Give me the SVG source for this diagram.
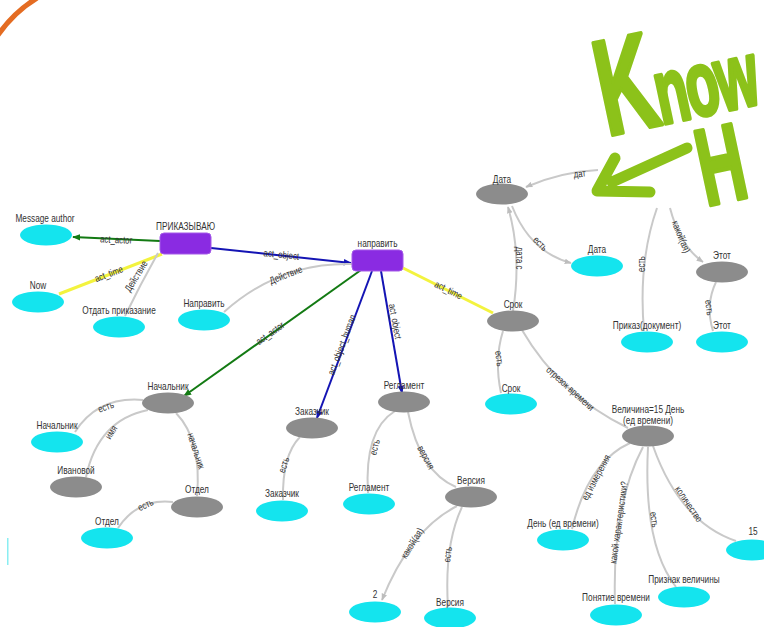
<svg xmlns="http://www.w3.org/2000/svg" width="764" height="627" viewBox="0 0 764 627">
<style>
.nl{font-family:"Liberation Sans",Arial,sans-serif;font-size:11px;fill:#333;text-anchor:middle}
.el{font-family:"Liberation Sans",Arial,sans-serif;font-size:10px;fill:#333;text-anchor:middle}
.cy{fill:#14e4ee}
.gr{fill:#8c8c8c}
.pu{fill:#8a2be2;stroke:#a45ae8;stroke-width:1}
.eg{fill:none;stroke:#c9c9c9;stroke-width:2}
.eb{fill:none;stroke:#1414b4;stroke-width:2}
.egn{fill:none;stroke:#137a13;stroke-width:2}
.ey{fill:none;stroke:#f3f33e;stroke-width:3}
.kh{font-family:"Liberation Sans",Arial,sans-serif;font-weight:bold;fill:#8cc21a;stroke:#8cc21a;stroke-width:2.5;stroke-linejoin:round}
</style>
<defs>
<marker id="ab" viewBox="0 0 10 10" refX="9" refY="5" markerWidth="8" markerHeight="8" markerUnits="userSpaceOnUse" orient="auto"><path d="M0,1 L10,5 L0,9 z" fill="#1414b4"/></marker>
<marker id="ag" viewBox="0 0 10 10" refX="9" refY="5" markerWidth="8" markerHeight="8" markerUnits="userSpaceOnUse" orient="auto"><path d="M0,1 L10,5 L0,9 z" fill="#137a13"/></marker>
<marker id="agr" viewBox="0 0 10 10" refX="9" refY="5" markerWidth="7" markerHeight="7" markerUnits="userSpaceOnUse" orient="auto"><path d="M0,1 L10,5 L0,9 z" fill="#bdbdbd"/></marker>
</defs>
<rect width="764" height="627" fill="#ffffff"/>
<path d="M-2,35 Q14,12 37,-2" fill="none" stroke="#e46c22" stroke-width="5"/>
<rect x="7" y="538" width="1.5" height="27" fill="#8aeef2"/>

<g id="connectors">
<path class="egn" d="M160,241 L73,237" marker-end="url(#ag)"/>
<path class="ey" d="M162,254 L59,294"/>
<path class="eg" d="M158,253 Q140,285 125,316"/>
<path class="eb" d="M211,248 L351,263" marker-end="url(#ab)"/>
<path class="eg" d="M352,264 Q280,262 224,312"/>
<path class="ey" d="M403,268 L493,313"/>
<path class="egn" d="M361,270 L184,396" marker-end="url(#ag)"/>
<path class="eb" d="M372,271 L317,418" marker-end="url(#ab)"/>
<path class="eb" d="M381,271 L402,393" marker-end="url(#ab)"/>
<path class="eg" d="M598,170 Q560,172 526,187" marker-end="url(#agr)"/>
<path class="eg" d="M512,206 Q530,252 571,263" marker-end="url(#agr)"/>
<path class="eg" d="M513,311 Q522,255 508,207" marker-end="url(#agr)"/>
<path class="eg" d="M657,208 Q638,262 644,331"/>
<path class="eg" d="M670,208 Q680,246 703,262" marker-end="url(#agr)"/>
<path class="eg" d="M716,282 Q705,305 713,331"/>
<path class="eg" d="M503,331 Q494,360 501,393"/>
<path class="eg" d="M522,330 Q560,395 628,428"/>
<path class="eg" d="M630,443 Q588,462 572,529"/>
<path class="eg" d="M643,447 Q612,505 615,604"/>
<path class="eg" d="M648,447 Q643,545 676,587"/>
<path class="eg" d="M653,446 Q680,522 736,541"/>
<path class="eg" d="M143,400 Q98,396 75,432"/>
<path class="eg" d="M148,410 Q98,420 86,477"/>
<path class="eg" d="M176,413 Q202,440 197,496"/>
<path class="eg" d="M173,502 Q138,498 118,528"/>
<path class="eg" d="M300,437 Q282,455 283,500"/>
<path class="eg" d="M395,411 Q364,430 368,493"/>
<path class="eg" d="M408,412 Q420,472 456,487"/>
<path class="eg" d="M457,506 Q410,530 382,600" marker-end="url(#agr)"/>
<path class="eg" d="M462,507 Q444,545 448,607"/>

<text class="el" transform="translate(116,243) rotate(2.6) scale(0.78,1)">act_actor</text>
<text class="el" transform="translate(110,277) rotate(-20.5) scale(0.78,1)">act_time</text>
<text class="el" transform="translate(139,278) rotate(-58.6) scale(0.78,1)">Действие</text>
<text class="el" transform="translate(281,258) rotate(6) scale(0.78,1)">act_object</text>
<text class="el" transform="translate(287,278) rotate(-21) scale(0.78,1)">Действие</text>
<text class="el" transform="translate(447,293) rotate(26.6) scale(0.78,1)">act_time</text>
<text class="el" transform="translate(272,336) rotate(-35.3) scale(0.78,1)">act_actor</text>
<text class="el" transform="translate(345,346) rotate(-69.5) scale(0.78,1)">act_object_human</text>
<text class="el" transform="translate(392,322) rotate(79.8) scale(0.78,1)">act_object</text>
<text class="el" transform="translate(580,177) rotate(-5) scale(0.78,1)">дат</text>
<text class="el" transform="translate(538,246) rotate(45) scale(0.78,1)">есть</text>
<text class="el" transform="translate(516,258) rotate(90) scale(0.78,1)">дата с</text>
<text class="el" transform="translate(645,264) rotate(-90) scale(0.78,1)">есть</text>
<text class="el" transform="translate(678,238) rotate(68) scale(0.78,1)">какой(ая)</text>
<text class="el" transform="translate(706,308) rotate(82) scale(0.78,1)">есть</text>
<text class="el" transform="translate(496,359) rotate(82) scale(0.78,1)">есть</text>
<text class="el" transform="translate(568,391) rotate(42) scale(0.78,1)">отрезок времени</text>
<text class="el" transform="translate(599,479) rotate(-62) scale(0.78,1)">ед измерения</text>
<text class="el" transform="translate(622,523) rotate(-82) scale(0.78,1)">какой характеристики?</text>
<text class="el" transform="translate(651,520) rotate(82) scale(0.78,1)">есть</text>
<text class="el" transform="translate(686,506) rotate(56) scale(0.78,1)">количество</text>
<text class="el" transform="translate(107,410) rotate(-20) scale(0.78,1)">есть</text>
<text class="el" transform="translate(114,434) rotate(-58) scale(0.78,1)">имя</text>
<text class="el" transform="translate(193,452) rotate(72) scale(0.78,1)">начальник</text>
<text class="el" transform="translate(147,508) rotate(-25) scale(0.78,1)">есть</text>
<text class="el" transform="translate(287,466) rotate(-72) scale(0.78,1)">есть</text>
<text class="el" transform="translate(378,448) rotate(-75) scale(0.78,1)">есть</text>
<text class="el" transform="translate(423,459) rotate(62) scale(0.78,1)">версия</text>
<text class="el" transform="translate(415,545) rotate(-58) scale(0.78,1)">какой(ая)</text>
<text class="el" transform="translate(451,555) rotate(-82) scale(0.78,1)">есть</text>
</g>

<g id="n_prikaz"><rect class="pu" x="160" y="233" width="51" height="21" rx="4"/><text class="nl" transform="translate(185.5,230) scale(0.75,1)">ПРИКАЗЫВАЮ</text></g>
<g id="n_napravit"><rect class="pu" x="352" y="250" width="51" height="21" rx="4"/><text class="nl" transform="translate(377.5,247) scale(0.75,1)">направить</text></g>

<g id="c_msgauthor"><ellipse class="cy" cx="46" cy="235" rx="26" ry="10.5"/><text class="nl" transform="translate(45,222) scale(0.75,1)">Message author</text></g>
<g id="c_now"><ellipse class="cy" cx="38" cy="302" rx="26" ry="10.5"/><text class="nl" transform="translate(38,289) scale(0.75,1)">Now</text></g>
<g id="c_otdat"><ellipse class="cy" cx="119" cy="327" rx="26" ry="10.5"/><text class="nl" transform="translate(119,314) scale(0.75,1)">Отдать приказание</text></g>
<g id="c_napravit"><ellipse class="cy" cx="204" cy="320" rx="26" ry="10.5"/><text class="nl" transform="translate(204,307) scale(0.75,1)">Направить</text></g>
<g id="c_data"><ellipse class="cy" cx="597" cy="266" rx="26" ry="10.5"/><text class="nl" transform="translate(597,253) scale(0.75,1)">Дата</text></g>
<g id="c_prikazdoc"><ellipse class="cy" cx="647" cy="342" rx="26" ry="10.5"/><text class="nl" transform="translate(647,329) scale(0.75,1)">Приказ(документ)</text></g>
<g id="c_etot"><ellipse class="cy" cx="722" cy="342" rx="26" ry="10.5"/><text class="nl" transform="translate(722,329) scale(0.75,1)">Этот</text></g>
<g id="c_srok"><ellipse class="cy" cx="511" cy="404" rx="26" ry="10.5"/><text class="nl" transform="translate(511,392) scale(0.75,1)">Срок</text></g>
<g id="c_den"><ellipse class="cy" cx="563" cy="540" rx="26" ry="10.5"/><text class="nl" transform="translate(563,527) scale(0.75,1)">День (ед времени)</text></g>
<g id="c_ponyatie"><ellipse class="cy" cx="616" cy="615" rx="26" ry="10.5"/><text class="nl" transform="translate(616,601) scale(0.75,1)">Понятие времени</text></g>
<g id="c_priznak"><ellipse class="cy" cx="684" cy="597" rx="26" ry="10.5"/><text class="nl" transform="translate(684,583) scale(0.75,1)">Признак величины</text></g>
<g id="c_15"><ellipse class="cy" cx="752" cy="550" rx="26" ry="10.5"/><text class="nl" transform="translate(753,535) scale(0.75,1)">15</text></g>
<g id="c_nachalnik"><ellipse class="cy" cx="57" cy="442" rx="26" ry="10.5"/><text class="nl" transform="translate(57,429) scale(0.75,1)">Начальник</text></g>
<g id="c_otdel"><ellipse class="cy" cx="107" cy="538" rx="26" ry="10.5"/><text class="nl" transform="translate(107,525) scale(0.75,1)">Отдел</text></g>
<g id="c_zakazchik"><ellipse class="cy" cx="282" cy="511" rx="26" ry="10.5"/><text class="nl" transform="translate(282,497) scale(0.75,1)">Заказчик</text></g>
<g id="c_reglament"><ellipse class="cy" cx="369" cy="504" rx="26" ry="10.5"/><text class="nl" transform="translate(369,491) scale(0.75,1)">Регламент</text></g>
<g id="c_2"><ellipse class="cy" cx="375" cy="612" rx="26" ry="10.5"/><text class="nl" transform="translate(375,598) scale(0.75,1)">2</text></g>
<g id="c_versiya"><ellipse class="cy" cx="450" cy="618" rx="26" ry="10.5"/><text class="nl" transform="translate(450,606) scale(0.75,1)">Версия</text></g>

<g id="g_data"><ellipse class="gr" cx="502" cy="194" rx="26" ry="10.5"/><text class="nl" transform="translate(502,183) scale(0.75,1)">Дата</text></g>
<g id="g_etot"><ellipse class="gr" cx="722" cy="272" rx="26" ry="10.5"/><text class="nl" transform="translate(722,259) scale(0.75,1)">Этот</text></g>
<g id="g_srok"><ellipse class="gr" cx="513" cy="321" rx="26" ry="10.5"/><text class="nl" transform="translate(513,308) scale(0.75,1)">Срок</text></g>
<g id="g_velichina"><ellipse class="gr" cx="648" cy="436" rx="26" ry="10.5"/><text class="nl" transform="translate(648,413) scale(0.75,1)">Величина=15 День</text><text class="nl" transform="translate(648,424) scale(0.75,1)">(ед времени)</text></g>
<g id="g_nachalnik"><ellipse class="gr" cx="168" cy="403" rx="26" ry="10.5"/><text class="nl" transform="translate(168,390) scale(0.75,1)">Начальник</text></g>
<g id="g_ivanovoy"><ellipse class="gr" cx="76" cy="487" rx="26" ry="10.5"/><text class="nl" transform="translate(76,474) scale(0.75,1)">Ивановой</text></g>
<g id="g_otdel"><ellipse class="gr" cx="197" cy="507" rx="26" ry="10.5"/><text class="nl" transform="translate(197,493) scale(0.75,1)">Отдел</text></g>
<g id="g_zakazchik"><ellipse class="gr" cx="312" cy="428" rx="26" ry="10.5"/><text class="nl" transform="translate(312,415) scale(0.75,1)">Заказчик</text></g>
<g id="g_reglament"><ellipse class="gr" cx="404" cy="402" rx="26" ry="10.5"/><text class="nl" transform="translate(404,389) scale(0.75,1)">Регламент</text></g>
<g id="g_versiya"><ellipse class="gr" cx="471" cy="497" rx="26" ry="10.5"/><text class="nl" transform="translate(471,484) scale(0.75,1)">Версия</text></g>

<g id="know_hub">
<text class="kh" font-size="54" letter-spacing="-2" transform="translate(607,136) rotate(-12) scale(1,1.7)"><tspan font-size="80">K</tspan>now</text>
<text class="kh" font-size="64" transform="translate(706,206) rotate(-12) scale(1,1.7)">H</text>
<path d="M615,158 L597,191 L650,192 M612,182 L687,148" fill="none" stroke="#8cc21a" stroke-width="11" stroke-linecap="round" stroke-linejoin="round"/>
</g>
</svg>
